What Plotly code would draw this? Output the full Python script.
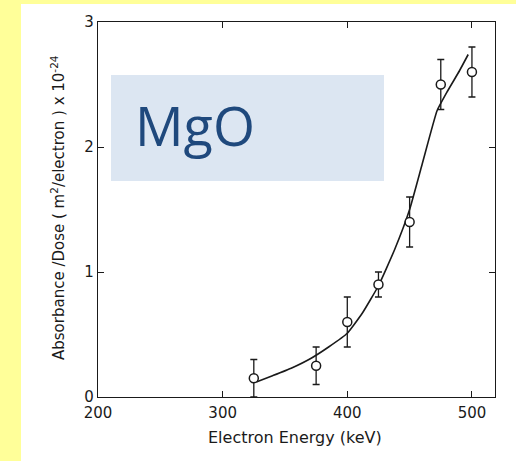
import plotly.graph_objects as go

# Measured points
energy = [325, 375, 400, 425, 450, 475, 500]
ratio = [0.15, 0.25, 0.60, 0.90, 1.40, 2.50, 2.60]
err = [0.15, 0.15, 0.20, 0.10, 0.20, 0.20, 0.20]

# Smooth fitted curve
curve_e = [327, 340, 355, 371, 385, 400, 412, 425, 438, 450, 460, 472, 480, 490, 497]
curve_r = [0.12, 0.17, 0.23, 0.31, 0.40, 0.51, 0.67, 0.89, 1.18, 1.50, 1.86, 2.29, 2.44, 2.61, 2.74]

x_ticks = [200, 300, 400, 500]
y_ticks = [0, 1, 2, 3]

W, H = 516, 461
L, R, T, B = 98, 21, 22, 64
pw, ph = W - L - R, H - T - B

def px(xp):
    return (xp - L) / pw

def py(yp):
    return (H - B - yp) / ph

ink = "#1a1a1a"
axfont = dict(family="DejaVu Sans", size=15, color=ink)

fig = go.Figure()
fig.add_trace(go.Scatter(
    x=curve_e, y=curve_r, mode="lines",
    line=dict(color=ink, width=1.6, shape="spline", smoothing=0.4),
    hoverinfo="skip", showlegend=False))
fig.add_trace(go.Scatter(
    x=energy, y=ratio, mode="markers",
    marker=dict(symbol="circle", size=9, color="white", line=dict(color=ink, width=1.5)),
    error_y=dict(type="data", array=err, visible=True, color=ink, thickness=1.3, width=3.5),
    showlegend=False))

fig.update_layout(
    width=W, height=H,
    margin=dict(l=L, r=R, t=T, b=B),
    paper_bgcolor="#FFFF99",
    plot_bgcolor="white",
    xaxis=dict(range=[200, 518.5], tickvals=x_ticks, ticks="inside", ticklen=6,
               tickcolor=ink, tickwidth=1.2, showline=True, linecolor=ink, linewidth=1.3,
               mirror="ticks", showgrid=False, zeroline=False, tickfont=axfont,
               ticklabelstandoff=2),
    yaxis=dict(range=[0, 3], tickvals=y_ticks, ticks="inside", ticklen=6,
               tickcolor=ink, tickwidth=1.2, showline=True, linecolor=ink, linewidth=1.3,
               mirror="ticks", showgrid=False, zeroline=False, tickfont=axfont),
    shapes=[
        dict(type="rect", xref="paper", yref="paper", x0=px(21), x1=px(520), y0=py(470), y1=py(4),
             fillcolor="white", line=dict(width=0), layer="below"),
        dict(type="rect", xref="paper", yref="paper", x0=px(111), x1=px(384), y0=py(181), y1=py(75),
             fillcolor="#DCE6F2", line=dict(width=0), layer="above"),
    ],
    annotations=[
        dict(text="MgO", xref="paper", yref="paper", x=px(133), y=py(125), xanchor="left", yanchor="middle",
             showarrow=False, font=dict(family="Open Sans", size=54, color="#1F497D")),
        dict(text="Electron Energy (keV)", xref="paper", yref="paper", x=px(295), y=py(437),
             xanchor="center", yanchor="middle", showarrow=False,
             font=dict(family="DejaVu Sans", size=16, color=ink)),
        dict(text="Absorbance /Dose ( m<sup>2</sup>/electron ) x 10<sup>-24</sup>", xref="paper", yref="paper",
             x=px(58), y=py(208), xanchor="center", yanchor="middle", textangle=-90, showarrow=False,
             font=dict(family="DejaVu Sans", size=15, color=ink)),
    ],
)

fig.write_html("out.html")
